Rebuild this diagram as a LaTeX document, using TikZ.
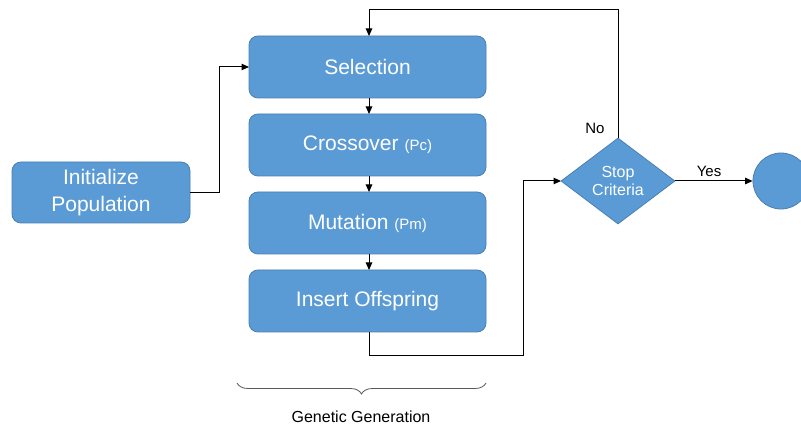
\documentclass[tikz,border=0pt]{standalone}
\usepackage{fontspec}
\setmainfont{Liberation Sans}
\usetikzlibrary{shapes.geometric,arrows.meta,decorations.pathreplacing}
\definecolor{boxfill}{HTML}{5B9BD5}
\definecolor{boxedge}{HTML}{4A7FB2}
\tikzset{
  stage/.style={draw=boxedge, fill=boxfill, line width=0.8pt, rounded corners=9pt,
    minimum width=237pt, minimum height=62pt, text=white, font=\fontsize{21}{24}\selectfont,
    inner sep=0pt, align=center},
  decision/.style={diamond, draw=boxedge, fill=boxfill, line width=0.8pt, text=white,
    minimum width=114pt, minimum height=86pt, inner sep=0pt, align=center,
    font=\fontsize{16}{19}\selectfont},
  terminal/.style={circle, draw=boxedge, fill=boxfill, line width=0.8pt, minimum size=56pt, inner sep=0pt},
  flow/.style={line width=1pt, -{Triangle[length=7.5pt,width=6.5pt]}},
  lbl/.style={font=\fontsize{15}{18}\selectfont, inner sep=0pt},
}
\newcommand{\param}[1]{{\fontsize{15}{18}\selectfont#1}}
\begin{document}
\begin{tikzpicture}[x=1pt,y=-1pt]
\useasboundingbox (0,0) rectangle (801,427);
\clip (0,0) rectangle (801,427);
\fill[white] (0,0) rectangle (801,427);

\node[stage, minimum width=178pt, minimum height=61pt] (init) at (101,192.5) {Initialize\\[3pt]Population};
\node[stage] (sel) at (367.5,67) {Selection};
\node[stage] (cross) at (367.5,145) {Crossover \param{(Pc)}};
\node[stage] (mut) at (367.5,223) {Mutation \param{(Pm)}};
\node[stage] (ins) at (367.5,301) {Insert Offspring};
\node[decision] (stop) at (618,181) {Stop\\[-1pt]Criteria};
\node[terminal] (end) at (781,181) {};

\coordinate (selin) at (249,67);
\coordinate (seltop) at (369,36);
\coordinate (stopin) at (561,181);

\draw[flow] (init.east) -- (219,192.5) |- (selin);
\draw[flow] (369,98) -- (369,114);
\draw[flow] (369,176) -- (369,192);
\draw[flow] (369,254) -- (369,270);
\draw[flow] (369,332) -- (369,356) -| (523,181) -- (stopin);
\draw[flow] (stop.north) |- (369,10) -- (seltop);
\draw[flow] (stop.east) -- (end.west);

\node[lbl] (no) at (595,128) {No};
\node[lbl] (yes) at (709,171) {Yes};

\draw[decorate, decoration={brace, amplitude=11pt}, gray!70!black, line width=0.8pt]
  (486,383) -- (237,383);
\node[font=\fontsize{16}{19}\selectfont, inner sep=0pt] (gen) at (361,417) {Genetic Generation};
\end{tikzpicture}
\end{document}
